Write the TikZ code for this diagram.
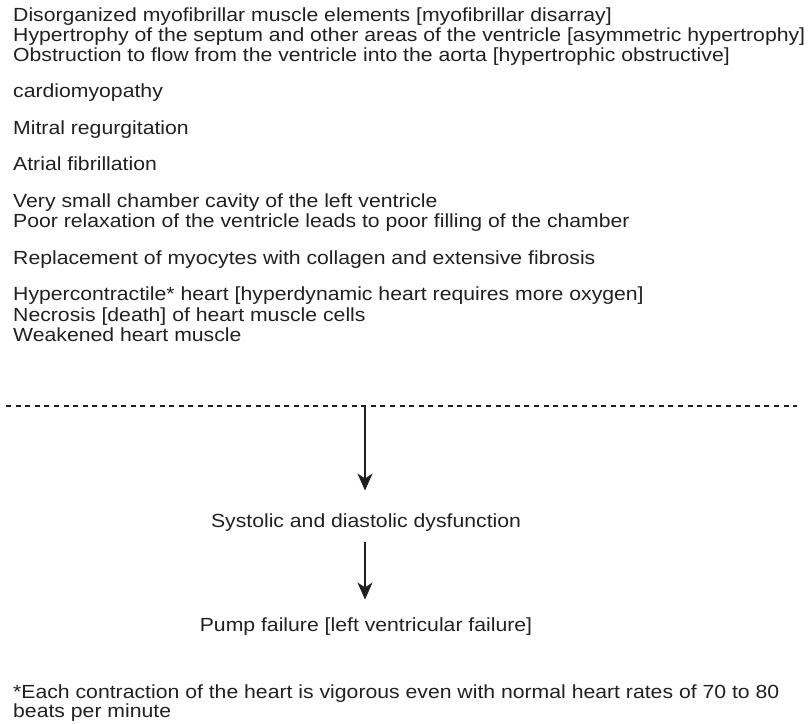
\documentclass[tikz,border=0pt]{standalone}
\usepackage{fontspec}
\setmainfont[FakeStretch=1.116]{Liberation Sans}
\usetikzlibrary{arrows.meta}
\definecolor{ink}{HTML}{231F20}
\tikzset{
  line/.style={anchor=base west, inner sep=0pt, text=ink, font=\fontsize{19}{19}\selectfont},
  ctr/.style={anchor=base, inner sep=0pt, text=ink, font=\fontsize{19}{19}\selectfont},
  flow/.style={draw=ink, line width=1.3pt, -{Stealth[length=17pt,width=15pt,inset=5pt]}},
  sep/.style={draw=ink, line width=1.4pt, dash pattern=on 5pt off 4.6pt},
}
\begin{document}
\begin{tikzpicture}[x=1pt,y=-1pt]
\useasboundingbox (0,0) rectangle (810,723);
\node[line] (l1) at (13,21.5) {Disorganized myofibrillar muscle elements [myofibrillar disarray]};
\node[line] (l2) at (13,41.5) {Hypertrophy of the septum and other areas of the ventricle [asymmetric hypertrophy]};
\node[line] (l3) at (13,61.5) {Obstruction to flow from the ventricle into the aorta [hypertrophic obstructive]};
\node[line] (l4) at (13,97.5) {cardiomyopathy};
\node[line] (l5) at (13,134) {Mitral regurgitation};
\node[line] (l6) at (13,170.5) {Atrial fibrillation};
\node[line] (l7) at (13,207) {Very small chamber cavity of the left ventricle};
\node[line] (l8) at (13,227.5) {Poor relaxation of the ventricle leads to poor filling of the chamber};
\node[line] (l9) at (13,264) {Replacement of myocytes with collagen and extensive fibrosis};
\node[line] (l10) at (13,300.5) {Hypercontractile* heart [hyperdynamic heart requires more oxygen]};
\node[line] (l11) at (13,321) {Necrosis [death] of heart muscle cells};
\node[line] (l12) at (13,341.5) {Weakened heart muscle};
\coordinate (dl) at (6,406);
\coordinate (dr) at (797,406);
\coordinate (top) at (365,406);
\draw[sep] (dl) -- (dr);
\node[ctr] (sd) at (366,527.5) {Systolic and diastolic dysfunction};
\node[ctr] (pf) at (366,631) {Pump failure [left ventricular failure]};
\coordinate (a1) at (365,490.5);
\coordinate (b0) at (365,541.5);
\coordinate (b1) at (365,599.5);
\draw[flow] (top) -- (a1);
\draw[flow] (b0) -- (b1);
\node[line] (f1) at (13,698) {*Each contraction of the heart is vigorous even with normal heart rates of 70 to 80};
\node[line] (f2) at (13,717.5) {beats per minute};
\end{tikzpicture}
\end{document}
